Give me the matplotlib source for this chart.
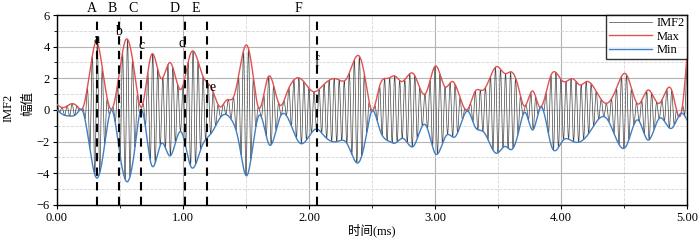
import numpy as np
import matplotlib
matplotlib.use("Agg")
import matplotlib.pyplot as plt
from matplotlib.ticker import MultipleLocator

plt.rcParams['font.family'] = ['Liberation Serif', 'Noto Sans CJK SC']
plt.rcParams['font.size'] = 9

# upper envelope (Max) knots: time (ms), value
max_t = [0.00, 0.05, 0.12, 0.17, 0.20, 0.23, 0.27, 0.31, 0.37, 0.434, 0.49, 0.548, 0.62, 0.667,
         0.75, 0.825, 0.897, 0.984, 1.063, 1.16, 1.228, 1.294, 1.347, 1.40, 1.44, 1.506,
         1.558, 1.598, 1.677, 1.77, 1.823, 1.929, 2.034, 2.114, 2.22, 2.30, 2.405, 2.45,
         2.497, 2.563, 2.63, 2.68, 2.735, 2.828, 2.926, 3.005, 3.079, 3.138, 3.259, 3.317,
         3.384, 3.489, 3.556, 3.608, 3.661, 3.707, 3.776, 3.83, 3.925, 4.018, 4.098, 4.15,
         4.204, 4.362, 4.44, 4.516, 4.61, 4.69, 4.78, 4.878, 4.957, 5.00]
max_v = [0.35, 0.15, 0.40, 0.15, 0.05, 0.9, 2.9, 4.3, 2.1, 0.06, 2.1, 4.46, 2.1, 0.17,
         3.5, 2.0, 3.0, 1.3, 3.62, 2.1, 1.37, 0.2, 0.63, 0.8, 2.1, 4.1,
         2.1, 0.17, 2.1, 0.3, 1.05, 2.0, 1.16, 1.58, 1.96, 2.0, 3.33, 1.8,
         0.0, 1.58, 2.0, 2.15, 1.8, 2.3, 1.05, 2.78, 1.47, 1.8, 0.04, 1.16,
         1.26, 2.74, 2.3, 2.4, 1.47, 0.25, 1.2, 0.2, 2.27, 1.8, 1.96, 1.58,
         1.8, 0.42, 1.37, 2.27, 0.38, 1.26, 0.42, 1.26, -0.1, 3.4]

# lower envelope (Min) knots
min_t = [0.00, 0.05, 0.10, 0.16, 0.20, 0.23, 0.27, 0.315, 0.38, 0.434, 0.49, 0.56, 0.62, 0.667,
         0.75, 0.83, 0.897, 0.984, 1.063, 1.15, 1.228, 1.307, 1.386, 1.44, 1.506,
         1.558, 1.606, 1.685, 1.77, 1.929, 2.061, 2.114, 2.22, 2.30, 2.392, 2.45,
         2.497, 2.563, 2.643, 2.68, 2.748, 2.828, 2.926, 3.005, 3.093, 3.159, 3.265,
         3.317, 3.384, 3.489, 3.556, 3.608, 3.661, 3.714, 3.776, 3.84, 3.925, 4.018,
         4.098, 4.21, 4.362, 4.516, 4.61, 4.69, 4.78, 4.878, 4.957, 5.00]
min_v = [0.0, -0.3, -0.38, -0.2, 0.0, -0.9, -2.9, -4.3, -2.1, 0.0, -2.3, -4.53, -2.3, 0.0,
         -3.47, -2.1, -2.9, -1.37, -3.58, -2.3, -1.43, -0.38, -0.63, -1.9, -4.15,
         -2.1, -0.32, -2.2, -0.46, -2.1, -1.2, -1.58, -2.0, -2.1, -3.33, -1.8,
         -0.1, -1.26, -2.0, -2.1, -1.8, -2.3, -0.95, -2.78, -1.58, -1.7, -0.1,
         -1.05, -1.37, -2.74, -2.3, -2.5, -1.47, -0.15, -1.26, 0.17, -2.3, -1.9,
         -2.0, -1.6, -0.53, -2.3, -0.63, -1.9, -0.53, -1.16, -0.2, -0.63]

carrier_khz = 25  # oscillations per ms counted in the picture

marker_x = [0.315, 0.492, 0.667, 1.016, 1.19, 2.066]
top_labels = ['A', 'B', 'C', 'D', 'E', 'F']
top_label_x = [0.278, 0.437, 0.603, 0.929, 1.103, 1.913]
point_labels = ['a', 'b', 'c', 'd', 'e', 'f']
point_x = [0.317, 0.492, 0.672, 0.995, 1.238, 2.063]
point_y = [4.48, 4.95, 4.1, 4.17, 1.42, 2.97]


def spline(xk, yk, x):
    xk = np.asarray(xk, float)
    yk = np.asarray(yk, float)
    n = len(xk)
    h = np.diff(xk)
    A = np.zeros((n, n))
    r = np.zeros(n)
    A[0, 0] = A[-1, -1] = 1
    for i in range(1, n - 1):
        A[i, i - 1] = h[i - 1]
        A[i, i] = 2 * (h[i - 1] + h[i])
        A[i, i + 1] = h[i]
        r[i] = 3 * ((yk[i + 1] - yk[i]) / h[i] - (yk[i] - yk[i - 1]) / h[i - 1])
    c = np.linalg.solve(A, r)
    b = (yk[1:] - yk[:-1]) / h - h * (2 * c[:-1] + c[1:]) / 3
    d = (c[1:] - c[:-1]) / (3 * h)
    i = np.clip(np.searchsorted(xk, x) - 1, 0, n - 2)
    dx = x - xk[i]
    return yk[i] + b[i] * dx + c[i] * dx ** 2 + d[i] * dx ** 3


t = np.linspace(0, 5, 6001)
upper = spline(max_t, max_v, t)
lower = spline(min_t, min_v, t)
imf = (upper + lower) / 2 + (upper - lower) / 2 * np.cos(2 * np.pi * carrier_khz * t)

fig = plt.figure(figsize=(7, 2.4), dpi=100)
ax = fig.add_axes([0.0814, 0.146, 0.9, 0.7915])

ax.plot(t, imf, color='#444444', lw=0.5, label='IMF2', zorder=2)
ax.plot(t, upper, color='#e05252', lw=1.0, label='Max', zorder=3)
ax.plot(t, lower, color='#3f7fc4', lw=1.0, label='Min', zorder=3)

for x in marker_x:
    ax.axvline(x, color='black', lw=1.5, ls=(0, (4, 3)), zorder=4)
for lab, x in zip(top_labels, top_label_x):
    ax.text(x, 6.2, lab, ha='center', va='baseline', fontsize=10, clip_on=False)
for lab, x, y in zip(point_labels, point_x, point_y):
    ax.text(x, y, lab, ha='center', va='center', fontsize=10, zorder=5)

ax.set_xlim(0, 5)
ax.set_ylim(-6, 6)
ax.xaxis.set_major_locator(MultipleLocator(1))
ax.xaxis.set_minor_locator(MultipleLocator(0.5))
ax.yaxis.set_major_locator(MultipleLocator(2))
ax.yaxis.set_minor_locator(MultipleLocator(1))
ax.xaxis.set_major_formatter(plt.FuncFormatter(lambda v, p: '%.2f' % v))
ax.grid(which='major', color='#b4b4b4', lw=0.8, zorder=0)
ax.grid(which='minor', color='#d4d4d4', lw=0.6, ls='--', zorder=0)
ax.tick_params(which='major', direction='out', length=3, width=0.8, pad=2)
ax.tick_params(which='minor', direction='out', length=2, width=0.6)
for s in ax.spines.values():
    s.set_linewidth(1.0)

ax.set_xlabel('时间(ms)', labelpad=0)
fig.text(0.012, 0.55, 'IMF2', rotation=90, ha='center', va='center', fontsize=9)
fig.text(0.04, 0.57, '幅值', rotation=90, ha='center', va='center', fontsize=9)

leg = ax.legend(loc='upper right', fontsize=9, frameon=True, fancybox=False,
                borderpad=0.2, labelspacing=0.1, handlelength=3.5, handletextpad=0.3,
                borderaxespad=0.0)
leg.get_frame().set_edgecolor('black')
leg.get_frame().set_linewidth(1.0)

fig.savefig('out.png', dpi=100)
